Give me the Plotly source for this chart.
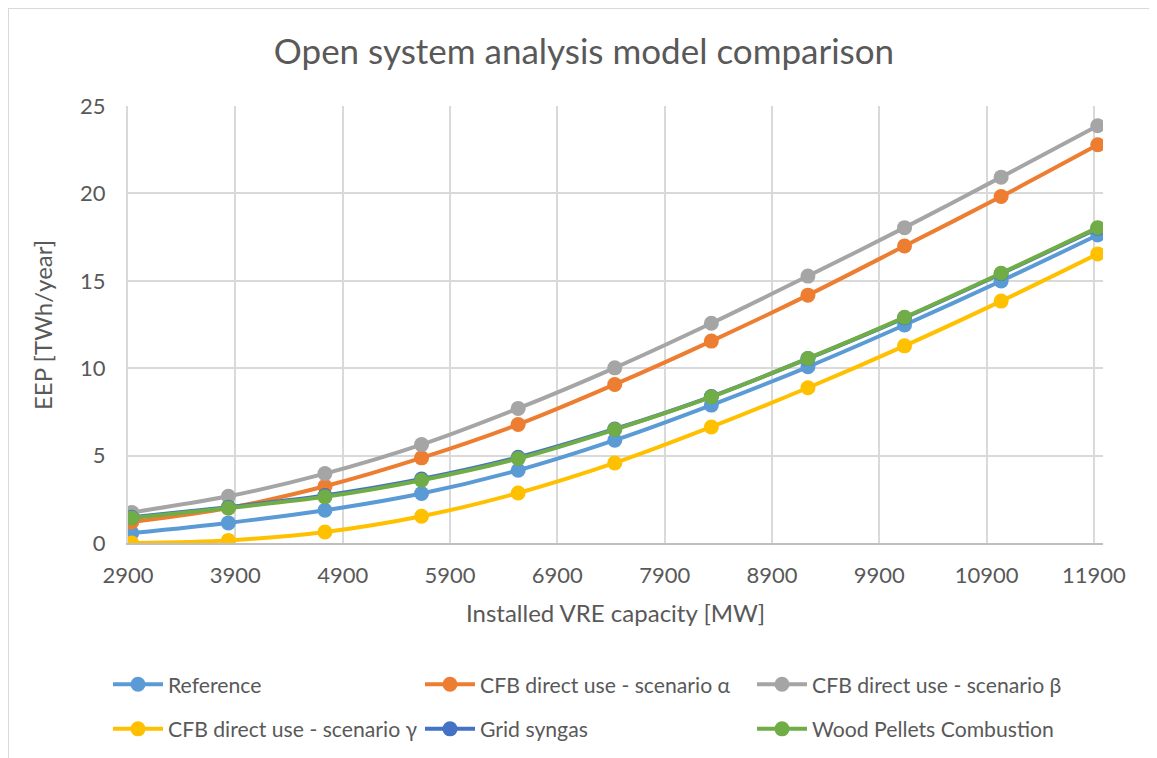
import plotly.graph_objects as go

# ---- data ----
capacity_mw = [2935, 3835, 4735, 5635, 6535, 7435, 8335, 9235, 10135, 11035, 11935]
reference = [0.57, 1.15, 1.87, 2.83, 4.16, 5.88, 7.89, 10.08, 12.47, 14.99, 17.62]
cfb_alpha = [1.20, 2.00, 3.25, 4.87, 6.78, 9.07, 11.55, 14.18, 16.99, 19.82, 22.78]
cfb_beta = [1.75, 2.67, 3.97, 5.63, 7.70, 10.02, 12.57, 15.27, 18.04, 20.93, 23.87]
cfb_gamma = [0.00, 0.15, 0.63, 1.53, 2.86, 4.58, 6.64, 8.88, 11.28, 13.84, 16.54]
grid_syngas = [1.47, 2.05, 2.72, 3.66, 4.90, 6.52, 8.38, 10.55, 12.88, 15.40, 18.00]
wood_pellets = [1.43, 2.00, 2.64, 3.59, 4.83, 6.49, 8.36, 10.56, 12.91, 15.43, 18.04]

series = [
    ("Reference", reference, "#5B9BD5", "legend"),
    ("CFB direct use - scenario α", cfb_alpha, "#ED7D31", "legend2"),
    ("CFB direct use - scenario β", cfb_beta, "#A5A5A5", "legend3"),
    ("CFB direct use - scenario γ", cfb_gamma, "#FFC000", "legend"),
    ("Grid syngas", grid_syngas, "#4472C4", "legend2"),
    ("Wood Pellets Combustion", wood_pellets, "#70AD47", "legend3"),
]

W, H = 1157, 758
FONT = "Lato"
TXT = "#595959"
# plot area in figure pixels
L, R, T, B = 120, 1095, 98, 535
PW, PH = R - L, B - T

fig = go.Figure()
for i, (name, vals, color, leg) in enumerate(series):
    fig.add_trace(go.Scatter(
        x=capacity_mw, y=vals, name=name, mode="lines+markers",
        line=dict(color=color, width=4, shape="spline", smoothing=0.8),
        marker=dict(color=color, size=15),
        legend=leg, legendgroup=f"g{i}",
    ))

def legend_cfg(px, py):
    return dict(
        xref="container", yref="container", x=px / W, y=1 - py / H,
        xanchor="left", yanchor="top", orientation="v",
        font=dict(family=FONT, size=21.2, color=TXT),
        bgcolor="rgba(0,0,0,0)", tracegroupgap=14, itemwidth=50,
    )

fig.update_layout(
    width=W, height=H,
    paper_bgcolor="white", plot_bgcolor="white",
    font=dict(family=FONT, color=TXT),
    margin=dict(l=L, r=W - R, t=T, b=H - B, autoexpand=False),
    title=dict(text="Open system analysis model comparison",
               font=dict(family=FONT, size=35, color=TXT),
               x=576 / W, xanchor="center", xref="container",
               y=1 - 44 / H, yanchor="middle", yref="container"),
    xaxis=dict(range=[2900, 11984], tick0=2900, dtick=1000, tickformat="d",
               showgrid=True, gridcolor="#D9D9D9", gridwidth=2,
               showline=True, linecolor="#BFBFBF", linewidth=2,
               zeroline=False, ticks="", ticklabelstandoff=12,
               tickfont=dict(family=FONT, size=22, color=TXT)),
    yaxis=dict(range=[0, 25], tick0=0, dtick=5,
               showgrid=True, gridcolor="#D9D9D9", gridwidth=2,
               showline=True, linecolor="#D9D9D9", linewidth=2,
               zeroline=False, ticks="", ticklabelstandoff=16,
               tickfont=dict(family=FONT, size=22, color=TXT)),
    legend=legend_cfg(100, 656),
    legend2=legend_cfg(412, 656),
    legend3=legend_cfg(744, 656),
    showlegend=True,
    annotations=[
        dict(text="Installed VRE capacity [MW]", showarrow=False,
             xref="paper", yref="paper",
             x=(607 - L) / PW, y=(B - 604) / PH, xanchor="center", yanchor="middle",
             font=dict(family=FONT, size=24, color=TXT)),
        dict(text="EEP [TWh/year]", showarrow=False, textangle=-90,
             xref="paper", yref="paper",
             x=(34 - L) / PW, y=(B - 317) / PH, xanchor="center", yanchor="middle",
             font=dict(family=FONT, size=24, color=TXT)),
    ],
)

# outer chart border (top and left edges visible in the reference)
fig.add_shape(type="rect", xref="paper", yref="paper",
              x0=(0 - L) / PW, x1=(W + 40 - L) / PW,
              y0=(B - (H + 40)) / PH, y1=(B - 0) / PH,
              line=dict(color="#D9D9D9", width=2), layer="below")

fig.write_html("out.html")
